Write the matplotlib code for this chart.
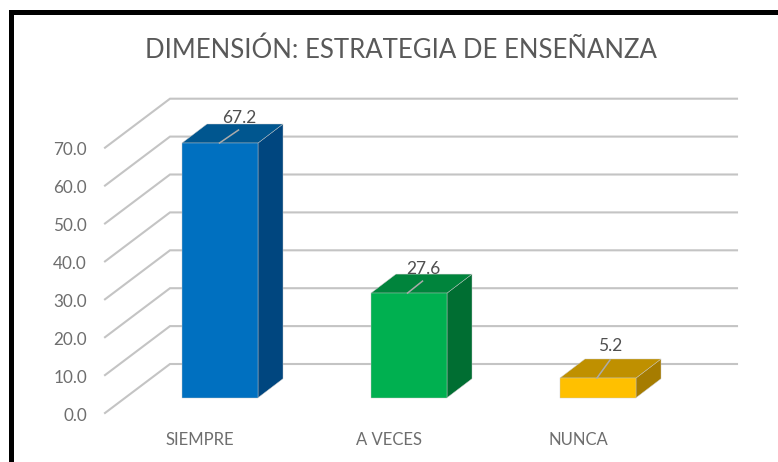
import matplotlib
matplotlib.use('Agg')
import matplotlib.pyplot as plt
from matplotlib.patches import Polygon, Rectangle

plt.rcParams['font.family'] = ['Lato', 'DejaVu Sans']

# ===== data =====
categories = ['SIEMPRE', 'A VECES', 'NUNCA']
values = [67.2, 27.6, 5.2]
y_ticks = [0, 10, 20, 30, 40, 50, 60, 70]
front_colors = ['#0070C0', '#00B050', '#FFC000']
top_colors = ['#00568F', '#00843C', '#BF9000']
side_colors = ['#00467F', '#006E32', '#A67C00']

# ===== pixel scale of the picture =====
W, H = 778, 462
X0, X_STEP = 220, 189     # px of first bar centre, px between bars
Y0, Y_STEP = 397.7, 3.79  # px of value 0 on the bar front, px per unit

fig = plt.figure(figsize=(W / 100, H / 100), dpi=100, facecolor='white')
ax = fig.add_axes([0, 0, 1, 1])
ax.set_xlim(-X0 / X_STEP, (W - X0) / X_STEP)
ax.set_ylim((Y0 - H) / Y_STEP, Y0 / Y_STEP)
ax.axis('off')

def dx(px):
    return px / X_STEP

def dy(px):
    return px / Y_STEP

# black frame, runs off the right and bottom
fig.add_artist(Rectangle((10.5 / W, -0.1), 1.2, 1.1 - 12.5 / H, transform=fig.transFigure,
                         fill=False, edgecolor='black', linewidth=3.6))

# gridlines: floor going back to the wall, then along the wall
grid_left = -X0 / X_STEP + dx(105)
wall_left = -X0 / X_STEP + dx(170)
grid_right = -X0 / X_STEP + dx(737)
for v in y_ticks:
    ax.plot([grid_left, wall_left, grid_right],
            [v - dy(15.3), v + dy(33.7), v + dy(33.7)],
            color='#C4C4C4', linewidth=1.5, solid_joinstyle='miter', zorder=1)
    ax.text(-X0 / X_STEP + dx(87), v - dy(18), f'{v:.1f}', ha='right', va='center',
            fontsize=12.3, color='#6E6E6E')

# bars
half = dx(38)
depth_x, depth_y = dx(25), dy(19)
leader_ends = [(19, 13), (15, 12), (13, 18)]
leader_starts = [-0.5, -1.5, -1]
label_offsets = [(19, 25), (14, 24), (12, 32)]
for i, (v, name) in enumerate(zip(values, categories)):
    l, r = i - half, i + half
    ax.add_patch(Polygon([(r, 0), (r + depth_x, depth_y), (r + depth_x, v + depth_y), (r, v)],
                         facecolor=side_colors[i], edgecolor='#C8C8C8', linewidth=0.3, zorder=3))
    ax.add_patch(Polygon([(l, v), (l + depth_x, v + depth_y), (r + depth_x, v + depth_y), (r, v)],
                         facecolor=top_colors[i], edgecolor='#C8C8C8', linewidth=0.3, zorder=3))
    ax.add_patch(Polygon([(l, 0), (r, 0), (r, v), (l, v)],
                         facecolor=front_colors[i], edgecolor='#C8C8C8', linewidth=0.3, zorder=3))
    # leader line and value label
    sx = i + dx(leader_starts[i])
    ex, ey = leader_ends[i]
    ax.plot([sx, sx + dx(ex)], [v, v + dy(ey)], color='#ABABAB', linewidth=1.1, zorder=4)
    ox, oy = label_offsets[i]
    ax.text(i + dx(ox), v + dy(oy), f'{v:.1f}', ha='center', va='center',
            fontsize=12.5, color='#4F4F4F', zorder=5)
    ax.text(i + dx(-20), dy(-42), name, ha='center', va='center',
            fontsize=12, color='#6E6E6E')

ax.text(-X0 / X_STEP + dx(401), dy(397.7 - 50), 'DIMENSIÓN: ESTRATEGIA DE ENSEÑANZA',
        ha='center', va='center', fontsize=18.5, color='#595959')

fig.savefig('out.png', dpi=100)
